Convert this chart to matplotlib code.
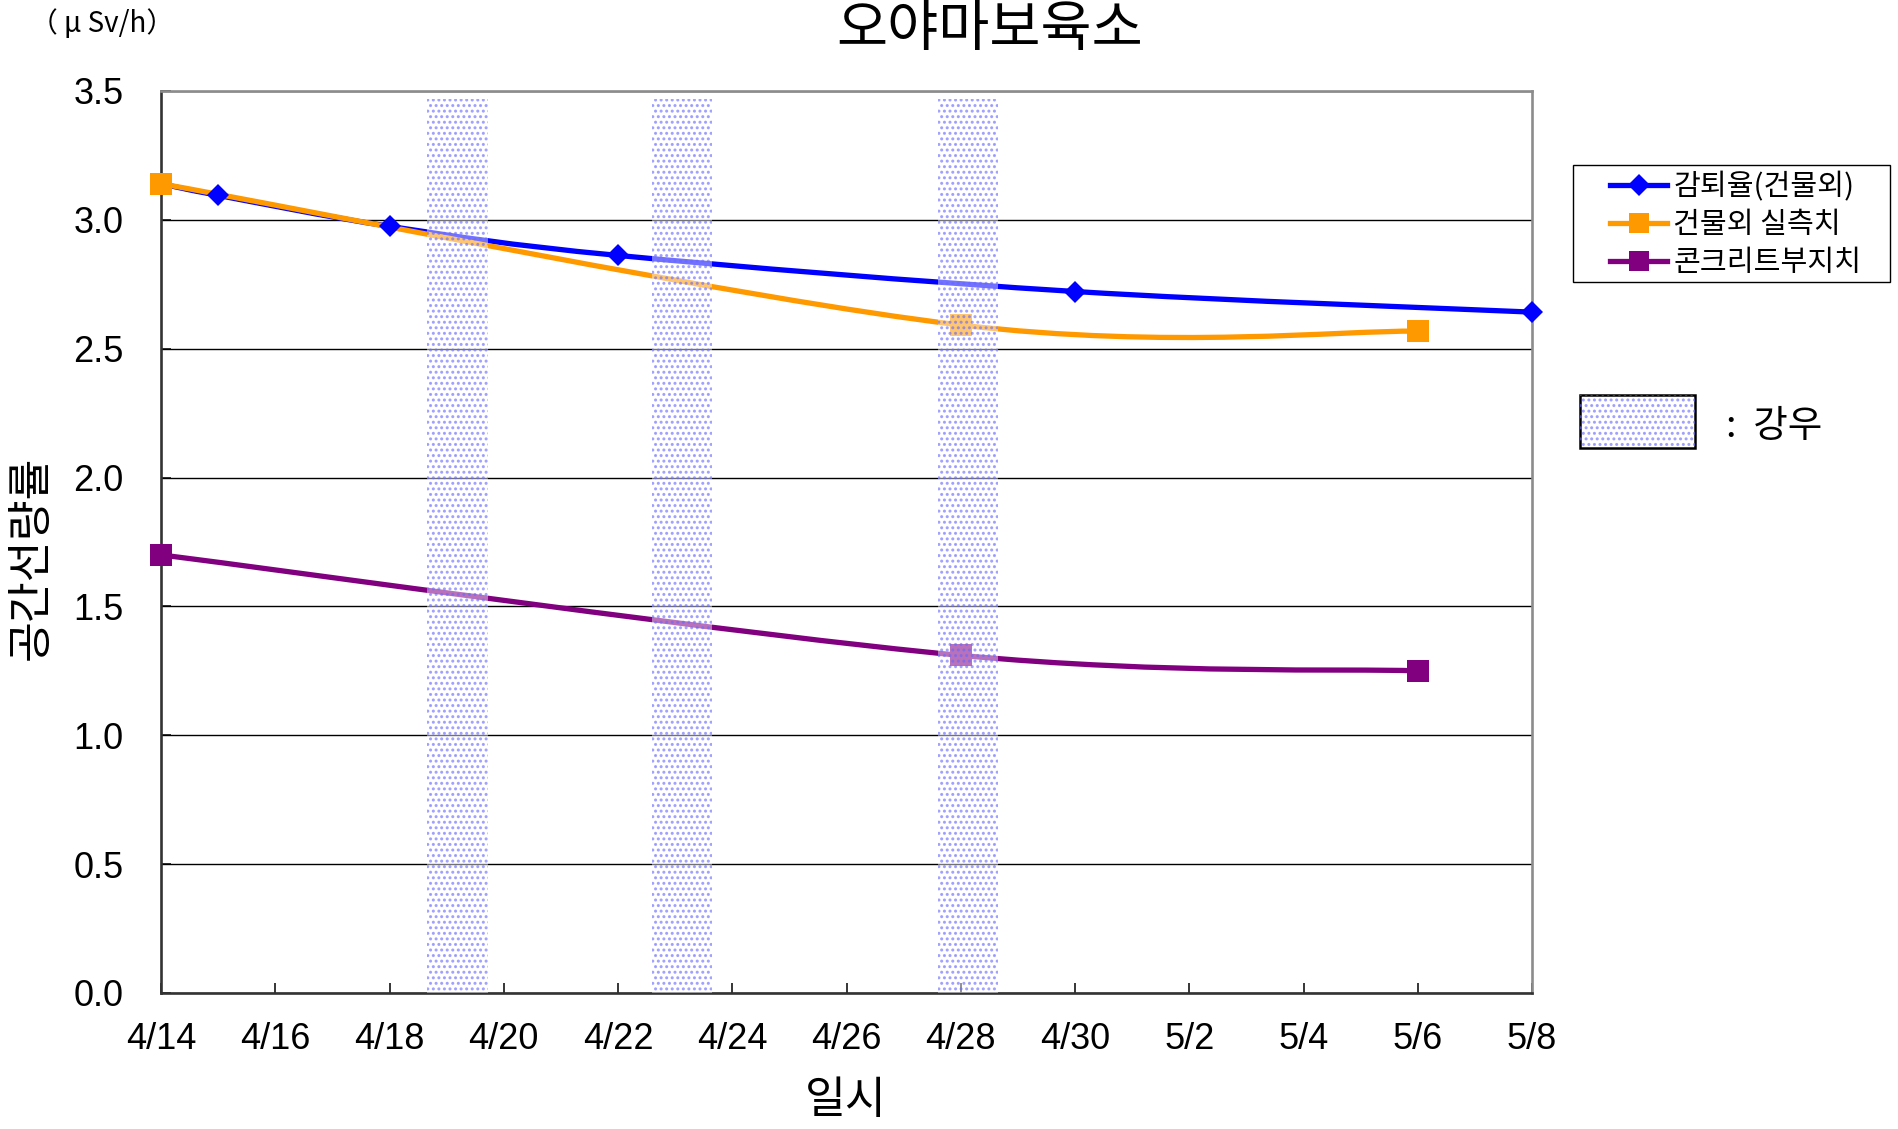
import matplotlib
matplotlib.use("Agg")
import matplotlib.pyplot as plt
from matplotlib.path import Path
from matplotlib.patches import PathPatch, Rectangle
from matplotlib.lines import Line2D
import numpy as np

# ---------------- data ----------------
tick_labels = ["4/14", "4/16", "4/18", "4/20", "4/22", "4/24", "4/26",
               "4/28", "4/30", "5/2", "5/4", "5/6", "5/8"]
# x values are days after 4/14
decay_days = [0, 1, 4, 8, 16, 24]
decay_vals = [3.14, 3.095, 2.975, 2.862, 2.722, 2.642]
outdoor_days = [0, 14, 22]
outdoor_vals = [3.14, 2.592, 2.568]
concrete_days = [0, 14, 22]
concrete_vals = [1.70, 1.31, 1.25]
rain_start = [4.65, 8.6, 13.6]
rain_width = [1.07, 1.04, 1.05]
rain_top = 3.47

series_names = ["감퇴율(건물외)", "건물외 실측치", "콘크리트부지치"]
series_colors = ["#0000FF", "#FF9900", "#800080"]

KR = ["Noto Sans CJK KR", "DejaVu Sans"]
NUM = ["Liberation Sans", "Noto Sans CJK KR"]

plt.rcParams["font.family"] = NUM
plt.rcParams["hatch.linewidth"] = 1.4

W, H = 1899, 1129
fig = plt.figure(figsize=(W / 100, H / 100), dpi=100)
ax = fig.add_axes([161 / W, 1 - 993 / H, (1532 - 161) / W, (993 - 91) / H])


def smooth_path(xs, ys):
    pts = np.column_stack([xs, ys]).astype(float)
    n = len(pts)
    verts = [pts[0]]
    codes = [Path.MOVETO]
    for i in range(n - 1):
        p0 = pts[i - 1] if i > 0 else pts[i]
        p1 = pts[i]
        p2 = pts[i + 1]
        p3 = pts[i + 2] if i + 2 < n else pts[i + 1]
        c1 = p1 + (p2 - p0) / 6.0
        c2 = p2 - (p3 - p1) / 6.0
        verts += [c1, c2, p2]
        codes += [Path.CURVE4] * 3
    return Path(verts, codes)


data = [(decay_days, decay_vals), (outdoor_days, outdoor_vals),
        (concrete_days, concrete_vals)]
markers = ["D", "s", "s"]
msizes = [11.5, 16, 16]

for (xs, ys), c in zip(data, series_colors):
    ax.add_patch(PathPatch(smooth_path(xs, ys), facecolor="none",
                           edgecolor=c, lw=3.8, zorder=3,
                           capstyle="round", joinstyle="round"))
for (xs, ys), c, m, ms in zip(data, series_colors, markers, msizes):
    ax.plot(xs, ys, linestyle="none", marker=m, markersize=ms,
            color=c, markeredgewidth=0, zorder=4, clip_on=False)

# rain bands
hatch_col = (0.4, 0.4, 1.0, 0.6)
for s, w in zip(rain_start, rain_width):
    ax.add_patch(Rectangle((s, 0), w, rain_top, facecolor=(1, 1, 1, 0.45),
                           edgecolor="none", lw=0, zorder=5))
    ax.add_patch(Rectangle((s, 0), w, rain_top, facecolor="none",
                           edgecolor=hatch_col, lw=0,
                           hatch="...", zorder=5))

ax.set_xlim(0, 24)
ax.set_ylim(0, 3.5)
ax.set_xticks(np.arange(0, 25, 2))
ax.set_xticklabels(tick_labels)
ax.set_yticks(np.arange(0, 3.51, 0.5))
ax.set_yticklabels([f"{v:.1f}" for v in np.arange(0, 3.51, 0.5)])
ax.tick_params(axis="both", direction="in", length=7, width=1.1,
               color="black", labelsize=26)
ax.tick_params(axis="x", pad=21)
ax.tick_params(axis="y", pad=27)
ax.yaxis.grid(True, color="black", lw=1.0)
ax.set_axisbelow(True)
for side in ["left", "bottom"]:
    ax.spines[side].set_color("#333333")
    ax.spines[side].set_linewidth(1.9)
for side in ["top", "right"]:
    ax.spines[side].set_color("#8c8c8c")
    ax.spines[side].set_linewidth(1.9)

# texts
fig.text(990 / W, 1 - 1 / H, "오야마보육소", family=KR, fontsize=40,
         ha="center", va="top")
fig.text(30 / W, 1 - 24 / H, "（ μ Sv/h）", family=KR, fontsize=20,
         ha="left", va="center")
fig.text(31 / W, 1 - 558 / H, "공간선량률", family=KR, fontsize=32,
         rotation=90, ha="center", va="center")
fig.text(846 / W, 1 - 1100 / H, "일시", family=KR, fontsize=32,
         ha="center", va="center")

# legend
fig.patches.append(Rectangle((1573 / W, 1 - 282 / H), (1890 - 1573) / W,
                             (282 - 165) / H, transform=fig.transFigure,
                             facecolor="white", edgecolor="black", lw=1.0))
handles = [Line2D([], [], color=c, lw=3.8, marker=m,
                  markersize=(11 if m == "D" else 14), markeredgewidth=0)
           for c, m in zip(series_colors, markers)]
leg = fig.legend(handles, series_names, loc="upper left",
                 bbox_to_anchor=(1590 / W, 1 - 152 / H),
                 frameon=False, prop={"family": KR, "size": 21},
                 handlelength=1.95, handletextpad=0.2, labelspacing=0.27,
                 borderpad=0.2)

# rain legend
fig.patches.append(Rectangle((1580 / W, 1 - 448 / H), (1695 - 1580) / W,
                             (448 - 395) / H, transform=fig.transFigure,
                             facecolor="white", edgecolor="black", lw=1.8))
fig.patches.append(Rectangle((1580 / W, 1 - 448 / H), (1695 - 1580) / W,
                             (448 - 395) / H, transform=fig.transFigure,
                             facecolor="none", edgecolor=hatch_col, lw=0,
                             hatch="..."))
fig.text(1726 / W, 1 - 426 / H, ":  강우", family=KR, fontsize=27,
         ha="left", va="center")

fig.savefig("out.png", dpi=100)
